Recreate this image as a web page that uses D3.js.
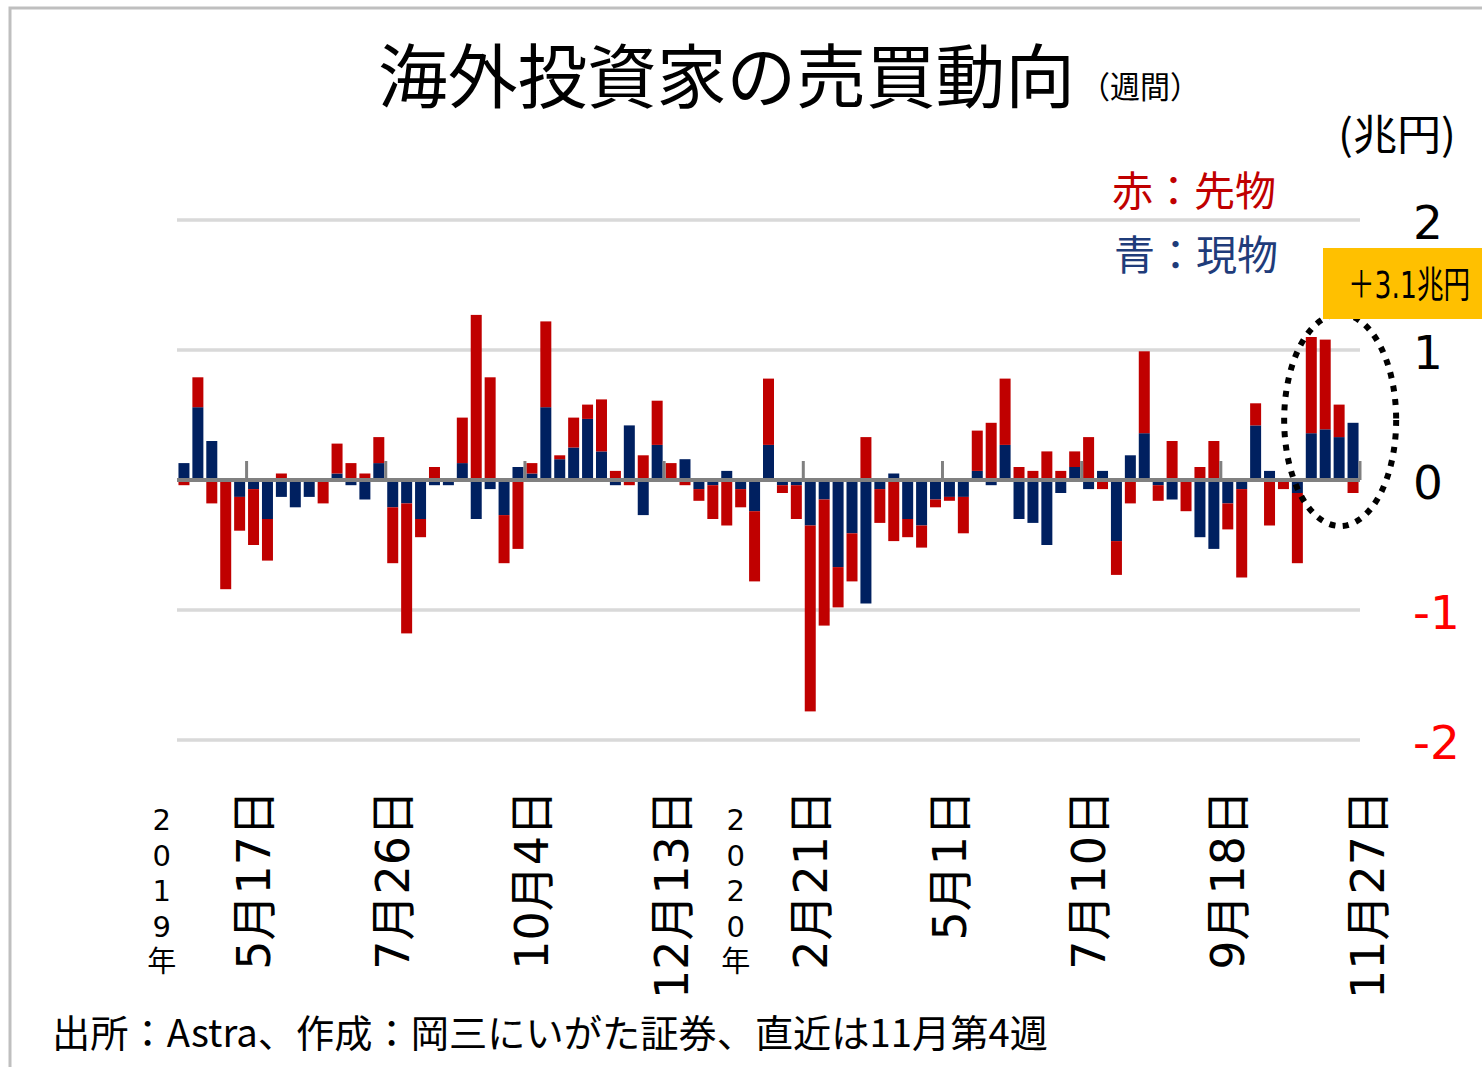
<!DOCTYPE html>
<html><head><meta charset="utf-8">
<script src="https://cdn.jsdelivr.net/npm/d3@7"></script>
<style>body{margin:0;background:#fff;} svg{display:block;}</style>
</head><body><svg id="chart" width="1482" height="1067"></svg>
<script>
// ---- data (兆円, weekly) ----
const firstWeek = "2019-04-12";
const cash = [0.13,0.56,0.30,0,-0.13,-0.07,-0.30,-0.13,-0.21,-0.13,
  0,0.05,-0.04,-0.15,0.13,-0.21,-0.18,-0.30,-0.04,-0.04,
  0.13,-0.30,-0.07,-0.27,0.10,0.05,0.56,0.16,0.25,0.47,
  0.22,-0.04,0.42,-0.27,0.27,0,0.16,-0.07,-0.04,0.07,
  -0.07,-0.24,0.27,-0.04,-0.04,-0.35,-0.15,-0.67,-0.41,-0.95,
  -0.07,0.05,-0.30,-0.35,-0.15,-0.13,-0.13,0.07,-0.04,0.27,
  -0.30,-0.33,-0.50,-0.10,0.10,-0.07,0.07,-0.47,0.19,0.36,
  -0.04,-0.15,0,-0.44,-0.53,-0.18,-0.07,0.42,0.07,0,
  -0.10,0.36,0.39,0.33,0.44];
const futures = [-0.04,0.23,-0.18,-0.84,-0.26,-0.43,-0.32,0.05,0.01,0.01,
  -0.18,0.23,0.13,0.05,0.20,-0.43,-1.00,-0.14,0.10,0.01,
  0.35,1.27,0.79,-0.37,-0.53,0.08,0.66,0.03,0.23,0.11,
  0.40,0.07,-0.04,0.19,0.34,0.13,-0.04,-0.09,-0.26,-0.35,
  -0.14,-0.54,0.51,-0.06,-0.26,-1.43,-0.97,-0.31,-0.37,0.33,
  -0.26,-0.47,-0.14,-0.17,-0.06,-0.03,-0.28,0.31,0.44,0.51,
  0.10,0.07,0.22,0.07,0.12,0.33,-0.07,-0.26,-0.18,0.63,
  -0.12,0.30,-0.24,0.10,0.30,-0.20,-0.68,0.17,-0.35,-0.07,
  -0.54,0.74,0.69,0.25,-0.10];
const tickDates = ["2019-05-17","2019-07-26","2019-10-04","2019-12-13","2020-02-21",
  "2020-05-01","2020-07-10","2020-09-18","2020-11-27"];
const yearLabels = ["2019年","2020年"];
const yTicks = [2,1,0,-1,-2];
const seriesNames = ["現物","先物"];
const title = "海外投資家の売買動向";
const subTitle = "（週間）";
const unitLabel = "(兆円)";
const legendLabels = ["赤：先物","青：現物"];
const calloutText = "＋3.1兆円";
const sourceText = "出所：Astra、作成：岡三にいがた証券、直近は11月第4週";

// ---- layout ----
const svg = d3.select("#chart");
const W = 1482, H = 1067;
const left = 177, right = 1360;
const parse = d3.timeParse("%Y-%m-%d");
const fmt = d3.timeFormat("%-m月%-d日");
const t0 = parse(firstWeek);
const weekIndex = d => Math.round((parse(d) - t0) / (7*864e5));
const n = cash.length;
const rows = cash.map((c,i)=>({i, cash:c, futures:futures[i]}));

const x = d3.scaleBand().domain(d3.range(n)).range([left,right]).paddingInner(0.21).paddingOuter(0.105);
const xEdge = d3.scaleLinear().domain([0,n]).range([left,right]);
const y = d3.scaleLinear().domain([-2,2]).range([740,220]);

const CJK = "'Noto Sans CJK JP', sans-serif";
const NUM = "'DejaVu Sans', 'Noto Sans CJK JP', sans-serif";

svg.append("rect").attr("width",W).attr("height",H).attr("fill","#fff");
// frame
svg.append("path").attr("d",`M10,${H+5} L10,8 L${W+5},8`).attr("fill","none").attr("stroke","#BFBFBF").attr("stroke-width",3);

// gridlines
svg.append("g").selectAll("line").data(yTicks.filter(v=>v!==0)).join("line")
  .attr("x1",left).attr("x2",right).attr("y1",d=>y(d)).attr("y2",d=>y(d))
  .attr("stroke","#D9D9D9").attr("stroke-width",3.5);

// stacked bars
const stack = d3.stack().keys(["cash","futures"]).offset(d3.stackOffsetDiverging)(rows);
const colors = {cash:"#002060", futures:"#C00000"};
svg.append("g").selectAll("g").data(stack).join("g")
  .attr("fill",d=>colors[d.key])
  .selectAll("rect").data(d=>d).join("rect")
  .attr("x",d=>x(d.data.i)).attr("width",x.bandwidth())
  .attr("y",d=>y(Math.max(d[0],d[1]))).attr("height",d=>Math.abs(y(d[0])-y(d[1])));

// zero axis + ticks
svg.append("line").attr("x1",left).attr("x2",right).attr("y1",y(0)).attr("y2",y(0))
  .attr("stroke","#808080").attr("stroke-width",4);
const tickIdx = tickDates.map(weekIndex);
svg.append("g").selectAll("line").data(tickIdx).join("line")
  .attr("x1",d=>xEdge(d)).attr("x2",d=>xEdge(d)).attr("y1",y(0)).attr("y2",y(0)-19)
  .attr("stroke","#808080").attr("stroke-width",3);

// x labels (rotated)
svg.append("g").selectAll("text").data(tickDates).join("text")
  .attr("transform",d=>`translate(${xEdge(weekIndex(d)+0.5)},790) rotate(-90)`)
  .attr("text-anchor","end").attr("dy","0.36em")
  .style("font-family",NUM).style("font-size","46px").attr("fill","#000")
  .text(d=>fmt(parse(d)));

// year labels, stacked characters
const yearPos = [xEdge(-1.1), xEdge(40.15)];
yearLabels.forEach((s,k)=>{
  const g = svg.append("text").attr("text-anchor","middle")
    .style("font-family",NUM).style("font-size","29px").attr("fill","#000");
  Array.from(s).forEach((ch,j)=>{
    g.append("tspan").attr("x",yearPos[k]).attr("y",830+j*35.5).text(ch);
  });
});

// y tick labels (right side)
svg.append("g").selectAll("text").data(yTicks).join("text")
  .attr("x",1413).attr("y",d=>y(d)+2).attr("dominant-baseline","central")
  .style("font-family",NUM).style("font-size","47px")
  .attr("fill",d=>d<0?"#FF0000":"#000").text(d=>d);

// unit
svg.append("text").attr("x",1338).attr("y",131).attr("dominant-baseline","central")
  .attr("textLength",118).attr("lengthAdjust","spacingAndGlyphs")
  .style("font-family",CJK).style("font-size","42px").attr("fill","#000").text(unitLabel);

// legend text
svg.append("text").attr("x",1112).attr("y",188).attr("dominant-baseline","central")
  .style("font-family",CJK).style("font-size","41px").attr("fill","#C00000").text(legendLabels[0]);
svg.append("text").attr("x",1114).attr("y",252).attr("dominant-baseline","central")
  .style("font-family",CJK).style("font-size","41px").attr("fill","#1F3C7A").text(legendLabels[1]);

// highlight ellipse around the last four weeks
const lastIdx = d3.range(n-4,n);
const ex = (x(lastIdx[0]) + x(lastIdx[3]) + x.bandwidth())/2 + 8;
svg.append("ellipse").attr("cx",ex).attr("cy",420).attr("rx",56).attr("ry",106)
  .attr("fill","none").attr("stroke","#000").attr("stroke-width",6).attr("stroke-dasharray","6 7.5");

// callout box
svg.append("rect").attr("x",1323).attr("y",248).attr("width",200).attr("height",71).attr("fill","#FFC000");
svg.append("text").attr("transform","translate(1348,298) scale(0.72,1)")
  .style("font-family",NUM).style("font-size","37px").attr("fill","#000").text(calloutText);

// title
svg.append("text").attr("x",378).attr("y",72).attr("dominant-baseline","central")
  .attr("textLength",697).attr("lengthAdjust","spacingAndGlyphs")
  .style("font-family",CJK).style("font-size","70px").attr("fill","#000").text(title);
svg.append("text").attr("x",1080).attr("y",84).attr("dominant-baseline","central")
  .attr("textLength",120).attr("lengthAdjust","spacingAndGlyphs")
  .style("font-family",CJK).style("font-size","31px").attr("fill","#000").text(subTitle);

// source
svg.append("text").attr("x",52).attr("y",1030).attr("dominant-baseline","central")
  .attr("textLength",996).attr("lengthAdjust","spacingAndGlyphs")
  .style("font-family",CJK).style("font-size","38px").attr("fill","#000").text(sourceText);
</script>
</body></html>
